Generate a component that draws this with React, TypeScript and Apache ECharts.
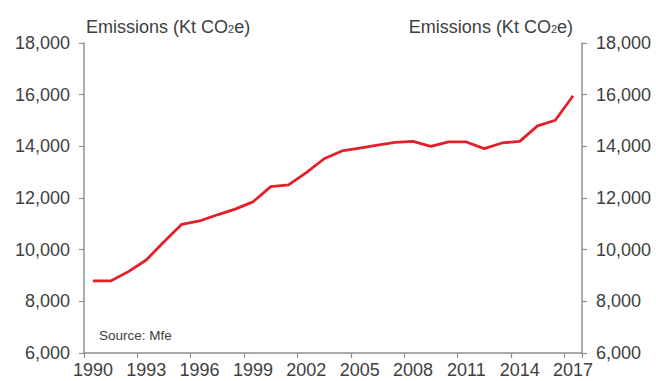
import React, { useEffect, useRef } from "react";
import * as echarts from "echarts";

// Annual emissions, 1990–2017 (Kt CO2e)
const years: string[] = [
  "1990", "1991", "1992", "1993", "1994", "1995", "1996", "1997", "1998", "1999",
  "2000", "2001", "2002", "2003", "2004", "2005", "2006", "2007", "2008", "2009",
  "2010", "2011", "2012", "2013", "2014", "2015", "2016", "2017",
];
const emissions: number[] = [
  8790, 8790, 9150, 9600, 10310, 10980, 11110, 11350, 11570, 11850,
  12440, 12510, 12980, 13520, 13820, 13930, 14050, 14150, 14190, 14000,
  14170, 14170, 13910, 14130, 14190, 14790, 15010, 15960,
];
const yMin = 6000;
const yMax = 18000;
const yStep = 2000;
const axisTitle = "Emissions (Kt CO2e)";
const sourceNote = "Source: Mfe";

const FONT = "'Liberation Sans', Arial, Helvetica, sans-serif";
const TEXT = "#404040";
const AXIS = "#8f8f8f";
const LINE = "#e3202a";

const fmt = (v: number) => v.toLocaleString("en-US");

// Split "CO2e" so the 2 can be drawn as a subscript
const richTitle = axisTitle.replace("CO2e", "CO}{s|2}{a|e");

export default function App() {
  const ref = useRef<HTMLDivElement>(null);

  useEffect(() => {
    if (!ref.current) return;
    const chart = echarts.init(ref.current, null, { renderer: "svg" });

    const valueAxis = (position: "left" | "right") => ({
      type: "value" as const,
      position,
      min: yMin,
      max: yMax,
      interval: yStep,
      splitLine: { show: false },
      axisLine: { show: true, lineStyle: { color: AXIS, width: 1.5 } },
      axisTick: { show: true, length: 5, lineStyle: { color: AXIS, width: 1.2 } },
      axisLabel: {
        margin: 14,
        color: TEXT,
        fontSize: 18,
        fontFamily: FONT,
        formatter: (v: number) => fmt(v),
      },
    });

    const titleRich = {
      a: { fontSize: 18, fontFamily: FONT, fill: TEXT, color: TEXT },
      s: { fontSize: 11, fontFamily: FONT, fill: TEXT, color: TEXT, padding: [4, 0, 0, 0] },
    };

    chart.setOption({
      animation: false,
      backgroundColor: "#ffffff",
      grid: { left: 84, right: 74, top: 43, bottom: 28, containLabel: false },
      xAxis: {
        type: "category",
        data: years,
        boundaryGap: true,
        axisLine: { show: true, lineStyle: { color: AXIS, width: 1.5 } },
        axisTick: { show: true, interval: 2, length: 5, lineStyle: { color: AXIS, width: 1.2 } },
        axisLabel: {
          interval: 2,
          margin: 8,
          color: TEXT,
          fontSize: 18,
          fontFamily: FONT,
        },
        splitLine: { show: false },
      },
      yAxis: [valueAxis("left"), valueAxis("right")],
      series: [
        {
          type: "line",
          data: emissions,
          yAxisIndex: 0,
          symbol: "none",
          lineStyle: { color: LINE, width: 2.8 },
        },
      ],
      graphic: [
        {
          type: "text",
          x: 86,
          y: 27,
          style: {
            text: "{a|" + richTitle + "}",
            rich: titleRich,
            fill: TEXT,
            align: "left",
            verticalAlign: "middle",
          },
        },
        {
          type: "text",
          x: 573,
          y: 27,
          style: {
            text: "{a|" + richTitle + "}",
            rich: titleRich,
            fill: TEXT,
            align: "right",
            verticalAlign: "middle",
          },
        },
        {
          type: "text",
          x: 99,
          y: 335,
          style: {
            text: sourceNote,
            fontSize: 13.5,
            fontFamily: FONT,
            fill: TEXT,
            align: "left",
            verticalAlign: "middle",
          },
        },
      ],
    });

    return () => chart.dispose();
  }, []);

  return (
    <div
      ref={ref}
      style={{ position: "absolute", left: 0, top: 0, width: 656, height: 381 }}
    />
  );
}
